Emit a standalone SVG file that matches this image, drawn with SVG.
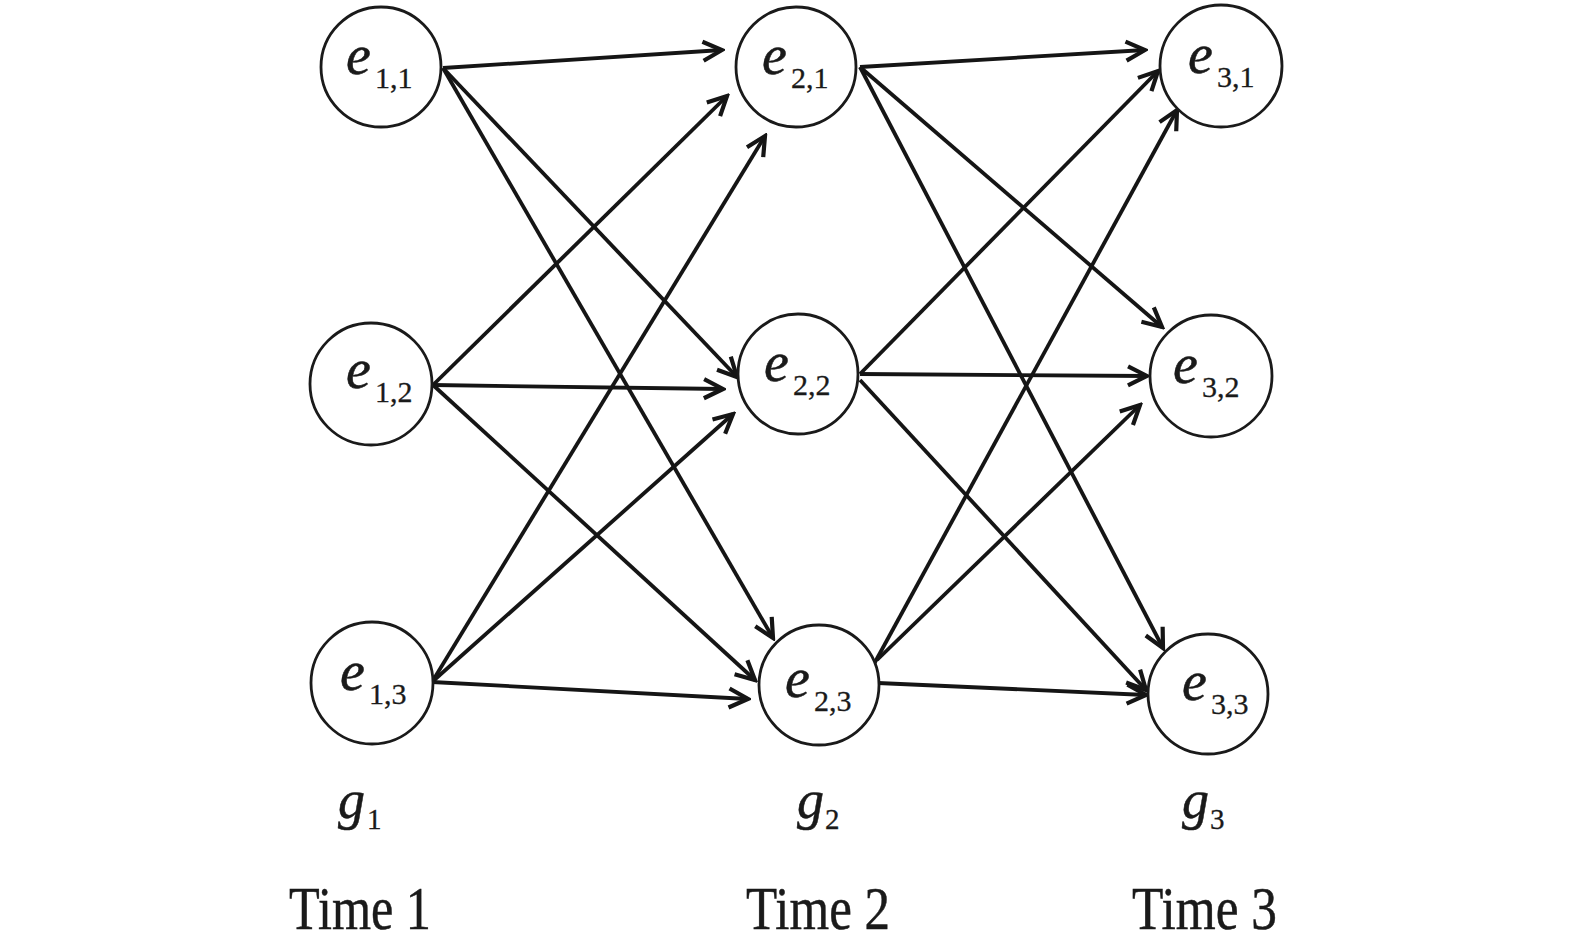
<svg xmlns="http://www.w3.org/2000/svg" width="1575" height="943" viewBox="0 0 1575 943">
<style>
.node{fill:#fff;stroke:#1a1a1a;stroke-width:2.8}
.edge{fill:none;stroke:#151515;stroke-width:3.8}
.ev{font-family:"Liberation Serif",serif;font-style:italic;font-size:56px;fill:#1a1a1a;stroke:#1a1a1a;stroke-width:0.5}
.sub{font-family:"Liberation Serif",serif;font-size:30px;fill:#1a1a1a;stroke:#1a1a1a;stroke-width:0.3}
.gv{font-family:"Liberation Serif",serif;font-style:italic;font-size:54px;fill:#1a1a1a;stroke:#1a1a1a;stroke-width:0.5}
.gs{font-family:"Liberation Serif",serif;font-size:29px;fill:#1a1a1a;stroke:#1a1a1a;stroke-width:0.3}
.time{font-family:"Liberation Serif",serif;font-size:62px;fill:#1a1a1a;stroke:#1a1a1a;stroke-width:0.5}
</style>
<defs>
<marker id="arr" viewBox="0 0 26 26" refX="23" refY="13" markerWidth="26" markerHeight="26" markerUnits="userSpaceOnUse" orient="auto">
<path d="M4,3.5 L23,13 L4,22.5" fill="none" stroke="#151515" stroke-width="4.2" stroke-linejoin="miter"/>
</marker>
</defs>
<rect width="1575" height="943" fill="#fff"/>
<g id="connectors">
<line class="edge" x1="443" y1="68" x2="722" y2="50" marker-end="url(#arr)"/>
<line class="edge" x1="443" y1="68" x2="737" y2="377" marker-end="url(#arr)"/>
<line class="edge" x1="443" y1="68" x2="773" y2="638" marker-end="url(#arr)"/>
<line class="edge" x1="433" y1="385" x2="727" y2="96" marker-end="url(#arr)"/>
<line class="edge" x1="433" y1="385" x2="723" y2="389" marker-end="url(#arr)"/>
<line class="edge" x1="433" y1="385" x2="755" y2="680" marker-end="url(#arr)"/>
<line class="edge" x1="432" y1="682" x2="765" y2="136" marker-end="url(#arr)"/>
<line class="edge" x1="432" y1="682" x2="733" y2="414" marker-end="url(#arr)"/>
<line class="edge" x1="432" y1="682" x2="748" y2="699" marker-end="url(#arr)"/>
<line class="edge" x1="860" y1="67" x2="1145" y2="50" marker-end="url(#arr)"/>
<line class="edge" x1="860" y1="67" x2="1162" y2="327" marker-end="url(#arr)"/>
<line class="edge" x1="860" y1="67" x2="1163" y2="648" marker-end="url(#arr)"/>
<line class="edge" x1="860" y1="374" x2="1158" y2="71" marker-end="url(#arr)"/>
<line class="edge" x1="860" y1="374" x2="1147" y2="376" marker-end="url(#arr)"/>
<line class="edge" x1="860" y1="380" x2="1146" y2="690" marker-end="url(#arr)"/>
<line class="edge" x1="874" y1="664" x2="1177" y2="110" marker-end="url(#arr)"/>
<line class="edge" x1="877" y1="660" x2="1140" y2="405" marker-end="url(#arr)"/>
<line class="edge" x1="878" y1="683" x2="1146" y2="695" marker-end="url(#arr)"/>
</g>
<g id="e11"><circle class="node" cx="381" cy="67" r="60"/><text><tspan class="ev" x="346" y="74">e</tspan><tspan class="sub" x="375" y="88">1,1</tspan></text></g>
<g id="e12"><circle class="node" cx="371" cy="384" r="61"/><text><tspan class="ev" x="346" y="388">e</tspan><tspan class="sub" x="375" y="402">1,2</tspan></text></g>
<g id="e13"><circle class="node" cx="372" cy="683" r="61"/><text><tspan class="ev" x="340" y="690">e</tspan><tspan class="sub" x="369" y="704">1,3</tspan></text></g>
<g id="e21"><circle class="node" cx="796" cy="67" r="60"/><text><tspan class="ev" x="762" y="74">e</tspan><tspan class="sub" x="791" y="88">2,1</tspan></text></g>
<g id="e22"><circle class="node" cx="798" cy="374" r="60"/><text><tspan class="ev" x="764" y="381">e</tspan><tspan class="sub" x="793" y="395">2,2</tspan></text></g>
<g id="e23"><circle class="node" cx="819" cy="685" r="60"/><text><tspan class="ev" x="785" y="697">e</tspan><tspan class="sub" x="814" y="711">2,3</tspan></text></g>
<g id="e31"><circle class="node" cx="1221" cy="66" r="61"/><text><tspan class="ev" x="1188" y="73">e</tspan><tspan class="sub" x="1217" y="87">3,1</tspan></text></g>
<g id="e32"><circle class="node" cx="1211" cy="376" r="61"/><text><tspan class="ev" x="1173" y="383">e</tspan><tspan class="sub" x="1202" y="397">3,2</tspan></text></g>
<g id="e33"><circle class="node" cx="1208" cy="694" r="60"/><text><tspan class="ev" x="1182" y="700">e</tspan><tspan class="sub" x="1211" y="714">3,3</tspan></text></g>
<g id="g1"><text><tspan class="gv" x="338" y="818">g</tspan><tspan class="gs" x="367" y="829">1</tspan></text></g>
<g id="g2"><text><tspan class="gv" x="797" y="818">g</tspan><tspan class="gs" x="825" y="829">2</tspan></text></g>
<g id="g3"><text><tspan class="gv" x="1182" y="818">g</tspan><tspan class="gs" x="1210" y="829">3</tspan></text></g>
<g id="time1"><text class="time" x="289" y="929" textLength="142" lengthAdjust="spacingAndGlyphs">Time 1</text></g>
<g id="time2"><text class="time" x="746" y="929" textLength="144" lengthAdjust="spacingAndGlyphs">Time 2</text></g>
<g id="time3"><text class="time" x="1132" y="929" textLength="145" lengthAdjust="spacingAndGlyphs">Time 3</text></g>
</svg>
